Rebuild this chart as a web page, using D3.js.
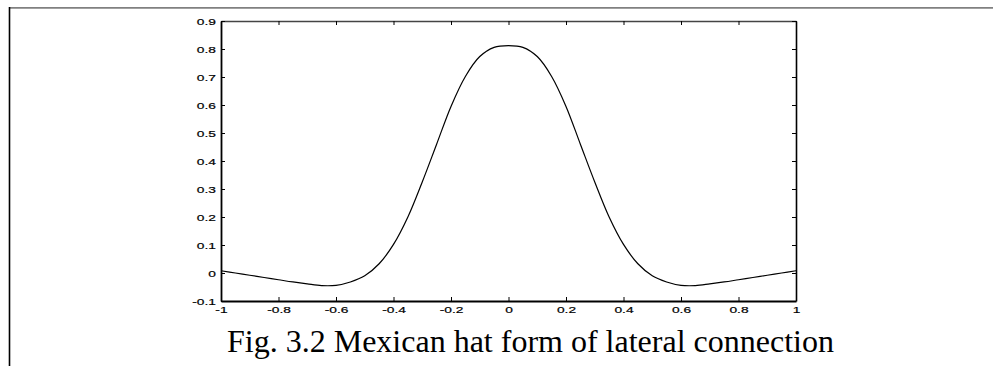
<!DOCTYPE html>
<html>
<head>
<meta charset="utf-8">
<script src="https://cdn.jsdelivr.net/npm/d3@7"></script>
<style>
  body { margin: 0; background: #fff; }
  svg { display: block; }
  .tick text { font-family: "Liberation Sans", Arial, sans-serif; font-size: 9.5px; fill: #000; stroke: #000; stroke-width: 0.2px; }
</style>
</head>
<body>
<div id="graph"></div>
<script>
// values (x from -1 to 1 in steps of 0.05)
const xValues = [-1, -0.95, -0.9, -0.85, -0.8, -0.75, -0.7, -0.65, -0.6, -0.55, -0.5,
  -0.45, -0.4, -0.35, -0.3, -0.25, -0.2, -0.15, -0.1, -0.05, 0,
  0.05, 0.1, 0.15, 0.2, 0.25, 0.3, 0.35, 0.4, 0.45, 0.5,
  0.55, 0.6, 0.65, 0.7, 0.75, 0.8, 0.85, 0.9, 0.95, 1];
const yValues = [0.008, 0.0, -0.008, -0.016, -0.024, -0.032, -0.039, -0.045, -0.044, -0.032, -0.010,
  0.033, 0.102, 0.200, 0.325, 0.460, 0.595, 0.702, 0.773, 0.806, 0.812,
  0.806, 0.773, 0.702, 0.595, 0.460, 0.325, 0.200, 0.102, 0.033, -0.010,
  -0.032, -0.044, -0.045, -0.039, -0.032, -0.024, -0.016, -0.008, 0.0, 0.008];

const xTicks = [-1, -0.8, -0.6, -0.4, -0.2, 0, 0.2, 0.4, 0.6, 0.8, 1];
const xTickLabels = ["-1", "-0.8", "-0.6", "-0.4", "-0.2", "0", "0.2", "0.4", "0.6", "0.8", "1"];
const yTicks = [-0.1, 0, 0.1, 0.2, 0.3, 0.4, 0.5, 0.6, 0.7, 0.8, 0.9];
const yTickLabels = ["-0.1", "0", "0.1", "0.2", "0.3", "0.4", "0.5", "0.6", "0.7", "0.8", "0.9"];
const caption = "Fig. 3.2 Mexican hat form of lateral connection";

const w = 993, h = 366;
const margin = { top: 21, right: 197, bottom: 65, left: 221 };
const innerWidth = w - margin.left - margin.right;
const innerHeight = h - margin.top - margin.bottom;
const stretch = 1.45; // tick labels are drawn wide in the original

const svg = d3.select("#graph")
    .append("svg")
    .attr("width", w)
    .attr("height", h);

// page rules (top grey line, left black line)
svg.append("line")
    .attr("x1", 9).attr("x2", w).attr("y1", 7.8).attr("y2", 7.8)
    .attr("stroke", "#808080").attr("stroke-width", 1.7);
svg.append("line")
    .attr("x1", 9.5).attr("x2", 9.5).attr("y1", 7).attr("y2", h)
    .attr("stroke", "#000").attr("stroke-width", 1.6);

const xScale = d3.scaleLinear().domain([-1, 1]).range([0, innerWidth]);
const yScale = d3.scaleLinear().domain([-0.1, 0.9]).range([innerHeight, 0]);

const g = svg.append("g")
    .attr("transform", `translate(${margin.left},${margin.top})`);

const xAxis = d3.axisBottom(xScale)
    .tickValues(xTicks)
    .tickFormat((d, i) => xTickLabels[i])
    .tickSizeInner(-4).tickSizeOuter(0).tickPadding(5.5);
const yAxis = d3.axisLeft(yScale)
    .tickValues(yTicks)
    .tickFormat((d, i) => yTickLabels[i])
    .tickSizeInner(-4).tickSizeOuter(0).tickPadding(5);

g.append("g").call(d3.axisTop(xScale).tickValues(xTicks).tickFormat("").tickSizeInner(-4).tickSizeOuter(0))
    .call(a => a.select(".domain").attr("stroke", "#444").attr("stroke-width", 1.3));
g.append("g").attr("transform", `translate(${innerWidth},0)`)
    .call(d3.axisRight(yScale).tickValues(yTicks).tickFormat("").tickSizeInner(-4).tickSizeOuter(0))
    .call(a => a.select(".domain").attr("stroke-width", 1.6));

g.append("g").attr("transform", `translate(0,${innerHeight})`)
    .call(xAxis)
    .call(a => a.select(".domain").attr("stroke-width", 1.8))
    .call(a => a.selectAll(".tick text").attr("transform", `scale(${stretch},1)`));
g.append("g")
    .call(yAxis)
    .call(a => a.select(".domain").attr("stroke-width", 1.8))
    .call(a => a.selectAll(".tick text")
        .attr("x", -5 / stretch)
        .attr("transform", `scale(${stretch},1)`));

const points = xValues.map((x, i) => ({ x: x, y: yValues[i] }));
const lineGenerator = d3.line()
    .x(d => xScale(d.x))
    .y(d => yScale(d.y))
    .curve(d3.curveCatmullRom.alpha(0.5));
g.append("path")
    .attr("d", lineGenerator(points))
    .attr("fill", "none")
    .attr("stroke", "#000")
    .attr("stroke-width", 1.2);

svg.append("text")
    .attr("x", 227)
    .attr("y", 352)
    .style("font-family", "'Liberation Serif', 'Times New Roman', serif")
    .style("font-size", "32px")
    .attr("fill", "#000")
    .text(caption);
</script>
</body>
</html>
